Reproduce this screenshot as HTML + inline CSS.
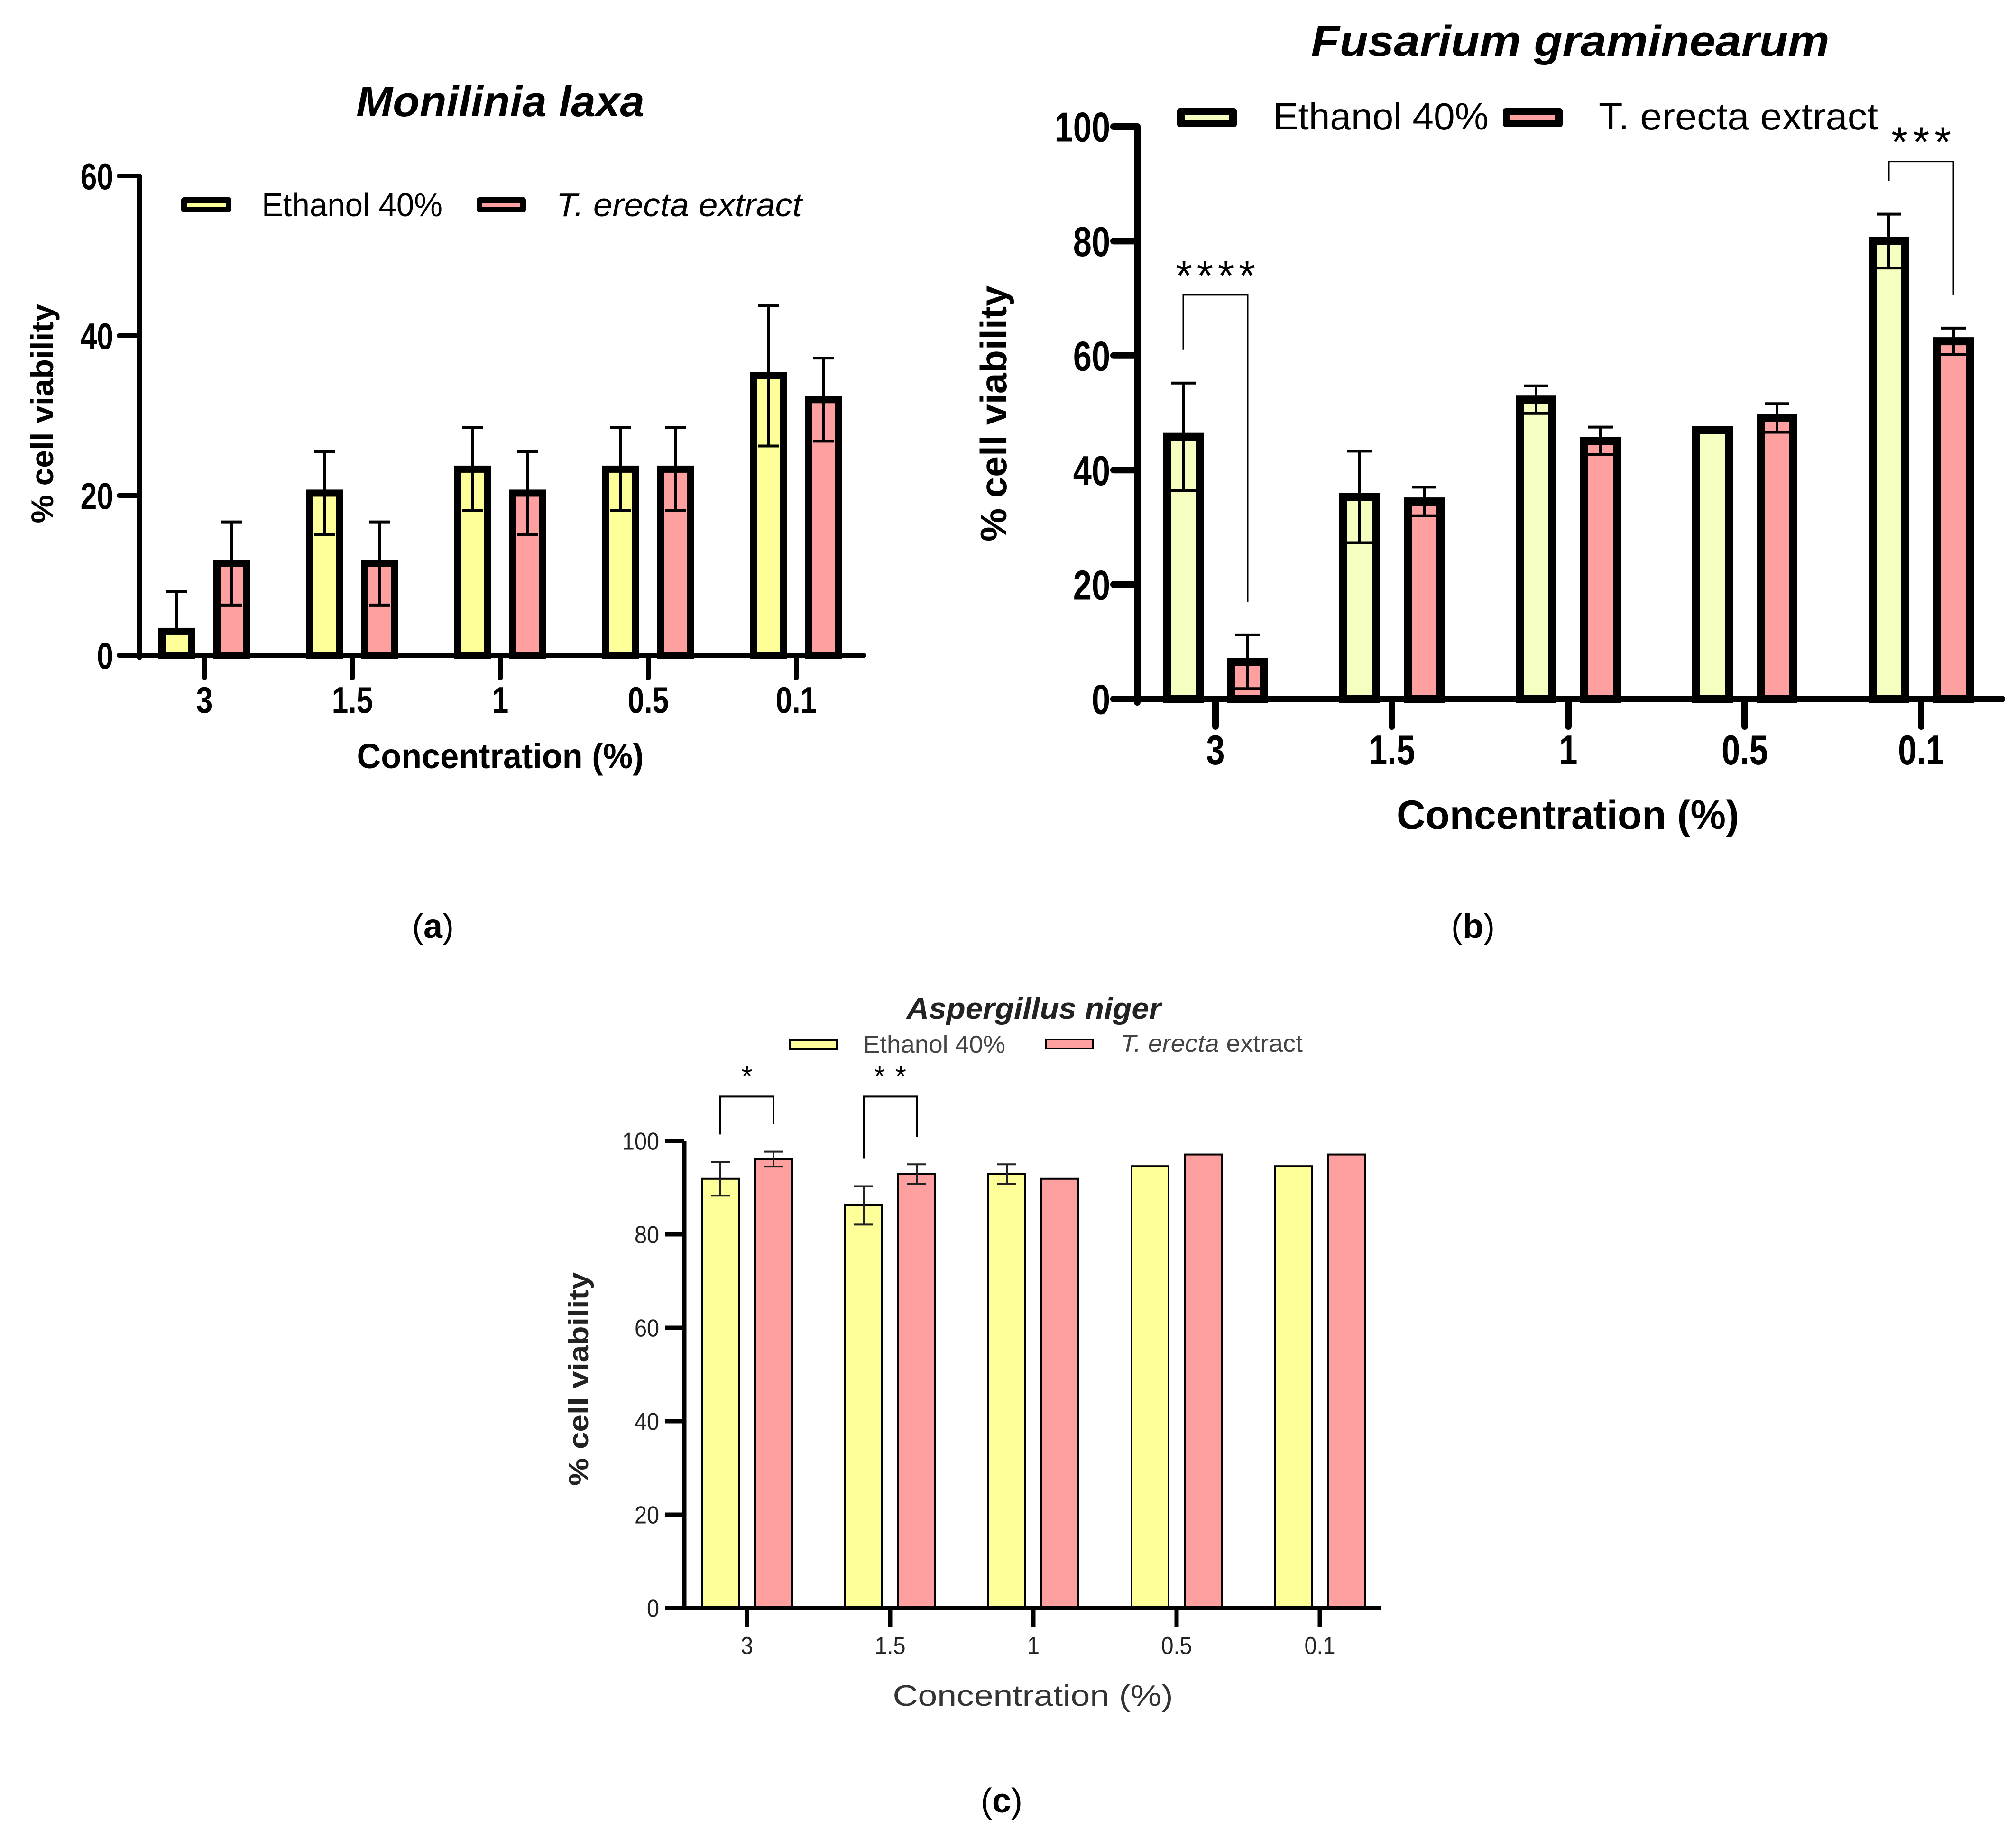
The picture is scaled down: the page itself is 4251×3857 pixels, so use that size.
<!DOCTYPE html>
<html><head><meta charset="utf-8"><style>
html,body{margin:0;padding:0;background:#fff;}
svg{display:block;}
text{font-family:"Liberation Sans",sans-serif;}
</style></head>
<body>
<svg id="fig" xmlns="http://www.w3.org/2000/svg" width="4251" height="3857" viewBox="0 0 4251 3857">
<rect x="0" y="0" width="4251" height="3857" fill="#fff"/>
<g>
<text x="1055" y="245" text-anchor="middle" font-size="90" font-weight="bold" font-style="italic" textLength="608" lengthAdjust="spacingAndGlyphs">Monilinia laxa</text>
<g>
<rect x="382" y="416" width="106" height="32" rx="6" fill="#000"/>
<rect x="394" y="428" width="82" height="8" fill="#FFFF99"/>
<text x="552" y="456" font-size="70" textLength="381" lengthAdjust="spacingAndGlyphs">Ethanol 40%</text>
<rect x="1005" y="416" width="104" height="32" rx="6" fill="#000"/>
<rect x="1017" y="428" width="80" height="8" fill="#FFA0A0"/>
<text x="1173" y="456" font-size="70" font-style="italic" textLength="518" lengthAdjust="spacingAndGlyphs">T. erecta extract</text>
</g>
<text transform="translate(112,872) rotate(-90)" text-anchor="middle" font-size="66" font-weight="bold" textLength="463" lengthAdjust="spacingAndGlyphs">% cell viability</text>
<text x="1055" y="1620" text-anchor="middle" font-size="74" font-weight="bold" textLength="605" lengthAdjust="spacingAndGlyphs">Concentration (%)</text>
<text x="913" y="1978" text-anchor="middle" font-size="72" font-family="Liberation Serif, serif">(<tspan font-weight="bold">a</tspan>)</text>
</g>
<g>
<text x="3311" y="118" text-anchor="middle" font-size="92" font-weight="bold" font-style="italic" textLength="1093" lengthAdjust="spacingAndGlyphs">Fusarium graminearum</text>
<g>
<rect x="2482" y="228" width="126" height="40" rx="6" fill="#000"/>
<rect x="2498" y="243" width="94" height="10" fill="#F4FFC0"/>
<text x="2684" y="273" font-size="80" textLength="455" lengthAdjust="spacingAndGlyphs">Ethanol 40%</text>
<rect x="3169" y="228" width="126" height="40" rx="6" fill="#000"/>
<rect x="3185" y="243" width="94" height="10" fill="#FFA0A0"/>
<text x="3371" y="273" font-size="80" textLength="589" lengthAdjust="spacingAndGlyphs">T. erecta extract</text>
</g>
<text transform="translate(2122,872) rotate(-90)" text-anchor="middle" font-size="78" font-weight="bold" textLength="540" lengthAdjust="spacingAndGlyphs">% cell viability</text>
<text x="3306" y="1748" text-anchor="middle" font-size="86" font-weight="bold" textLength="722" lengthAdjust="spacingAndGlyphs">Concentration (%)</text>
<text x="3106" y="1978" text-anchor="middle" font-size="72" font-family="Liberation Serif, serif">(<tspan font-weight="bold">b</tspan>)</text>
</g>
<g>
<text x="2180" y="2148" text-anchor="middle" font-size="62" font-weight="bold" font-style="italic" fill="#222" textLength="537" lengthAdjust="spacingAndGlyphs">Aspergillus niger</text>
<g>
<rect x="1666" y="2193" width="98" height="19" fill="#FFFF99" stroke="#000" stroke-width="4"/>
<text x="1820" y="2220" font-size="52" fill="#444" textLength="300" lengthAdjust="spacingAndGlyphs">Ethanol 40%</text>
<rect x="2205" y="2192" width="99" height="19" fill="#FFA0A0" stroke="#000" stroke-width="4"/>
<text x="2363" y="2218" font-size="52" fill="#444" textLength="384" lengthAdjust="spacingAndGlyphs"><tspan font-style="italic">T. erecta</tspan> extract</text>
</g>
<text transform="translate(1240,2908) rotate(-90)" text-anchor="middle" font-size="58" font-weight="bold" fill="#222" textLength="450" lengthAdjust="spacingAndGlyphs">% cell viability</text>
<text x="2178" y="3597" text-anchor="middle" font-size="62" fill="#333" textLength="591" lengthAdjust="spacingAndGlyphs">Concentration (%)</text>
<text x="2112" y="3822" text-anchor="middle" font-size="72" font-family="Liberation Serif, serif">(<tspan font-weight="bold">c</tspan>)</text>
</g>
<g id="plots"></g>
</svg>
<script>
var categories = ["3", "1.5", "1", "0.5", "0.1"];
// Panel a: Monilinia laxa
var aTicks = [0, 20, 40, 60];
var aEthanol = [3, 20.3, 23.3, 23.3, 35];
var aEthanolErr = [5, 5.2, 5.2, 5.2, 8.8];
var aExtract = [11.5, 11.5, 20.3, 23.3, 32];
var aExtractErr = [5.2, 5.2, 5.2, 5.2, 5.2];
// Panel b: Fusarium graminearum
var bTicks = [0, 20, 40, 60, 80, 100];
var bEthanol = [45.8, 35.3, 52.3, 47, 80];
var bEthanolErr = [9.4, 8, 2.4, 0, 4.7];
var bExtract = [6.5, 34.5, 45.1, 49.1, 62.5];
var bExtractErr = [4.7, 2.5, 2.4, 2.5, 2.3];
var bSigLabels = ["****", "***"];
var bSigCats = [0, 4];
var bSigTops = [70.6, 93.9];
// Panel c: Aspergillus niger
var cTicks = [0, 20, 40, 60, 80, 100];
var cEthanol = [91.9, 86.2, 92.9, 94.6, 94.6];
var cEthanolErr = [3.6, 4.1, 2.1, 0, 0];
var cExtract = [96.1, 92.9, 91.9, 97.1, 97.1];
var cExtractErr = [1.6, 2.1, 0, 0, 0];
var cSigLabels = ["*", "**"];
var cSigCats = [0, 1];
var cSigTops = [109.5, 109.5];

var NS = "http://www.w3.org/2000/svg";
var root = document.getElementById("plots");
function mk(tag, attrs, parent) {
  var e = document.createElementNS(NS, tag);
  for (var k in attrs) e.setAttribute(k, attrs[k]);
  (parent || root).appendChild(e);
  return e;
}

function drawChart(cfg, eth, ethErr, ext, extErr) {
  var g = mk("g", {});
  
  
  function y(v) { return cfg.y0 - v / cfg.ymax * (cfg.y0 - cfg.yTop); }
  function x(i) { return cfg.x0 + i * cfg.dx; }
  var series = [[eth, ethErr, cfg.c1, -cfg.off, 'ethanol'], [ext, extErr, cfg.c2, cfg.off, 'extract']];
  series.forEach(function (s) {
    for (var i = 0; i < categories.length; i++) {
      var cx = x(i) + s[3];
      var top = y(s[0][i]);
      var r = mk("rect", {x: cx - cfg.bw / 2, y: top, width: cfg.bw, height: cfg.y0 - top, fill: s[2], stroke: "#000", "stroke-width": cfg.sw}, g);
      
      
      if (s[1][i] > 0) {
        var hi = y(s[0][i] + s[1][i]);
        var lov = s[0][i] - s[1][i];
        var path = "M" + (cx - cfg.cap / 2) + " " + hi + "h" + cfg.cap;
        if (lov > 0) {
          var lo = y(lov);
          path += "M" + cx + " " + lo + "V" + hi + "M" + (cx - cfg.cap / 2) + " " + lo + "h" + cfg.cap;
        } else {
          path += "M" + cx + " " + y(s[0][i]) + "V" + hi;
        }
        var eb = mk("path", {d: path, stroke: cfg.ec, "stroke-width": cfg.ew, fill: "none"}, g);
        
        
      }
    }
  });
  var ya = mk("line", {x1: cfg.ax, y1: cfg.yTop, x2: cfg.ax, y2: cfg.y0 + cfg.aw / 2, stroke: "#000", "stroke-width": cfg.aw, "stroke-linecap": cfg.lc}, g);
  
  
  var xa = mk("line", {x1: cfg.tl, y1: cfg.y0, x2: cfg.xEnd, y2: cfg.y0, stroke: "#000", "stroke-width": cfg.aw, "stroke-linecap": cfg.lc}, g);
  
  
  var ticks = cfg.ticks;
  for (var t = 0; t < ticks.length; t++) {
    var ty = y(ticks[t]);
    var tk = mk("line", {x1: cfg.tl, y1: ty, x2: cfg.ax, y2: ty, stroke: "#000", "stroke-width": cfg.aw, "stroke-linecap": cfg.lc}, g);
    
    
    var tl = mk("text", {transform: "translate(" + cfg.ylx + "," + (ty + cfg.tf * 0.36) + ") scale(" + cfg.sx + ",1)", "text-anchor": "end", "font-size": cfg.tf, "font-weight": cfg.tw, fill: cfg.tc}, g);
    tl.textContent = String(ticks[t]);
    
    
  }
  for (var i = 0; i < categories.length; i++) {
    var xt = mk("line", {x1: x(i), y1: cfg.y0, x2: x(i), y2: cfg.tb, stroke: "#000", "stroke-width": cfg.aw, "stroke-linecap": cfg.lc}, g);
    
    
    var xl = mk("text", {transform: "translate(" + x(i) + "," + cfg.xly + ") scale(" + cfg.sx + ",1)", "text-anchor": "middle", "font-size": cfg.tf, "font-weight": cfg.tw, fill: cfg.tc}, g);
    xl.textContent = categories[i];
    
    
  }
  if (cfg.sig) {
    for (var k = 0; k < cfg.sig.labels.length; k++) {
      var ci = cfg.sig.cats[k];
      var lx = x(ci) - cfg.off, rx = x(ci) + cfg.off;
      var ltop = eth[ci] + ethErr[ci], rtop = ext[ci] + extErr[ci];
      var top = y(cfg.sig.tops[k]);
      var lb = y(ltop) - cfg.sig.gap, rb = y(rtop) - cfg.sig.gap;
      var br = mk("path", {d: "M" + lx + " " + lb + "V" + top + "H" + rx + "V" + rb, stroke: "#000", "stroke-width": cfg.sig.w, fill: "none"}, g);
      
      
      var lab = cfg.sig.labels[k];
      var st = mk("text", {x: x(ci), y: top - cfg.sig.ty, "text-anchor": "middle", "font-size": cfg.sig.fs, fill: "#000", textLength: lab.length * cfg.sig.cw, lengthAdjust: "spacing"}, g);
      st.textContent = lab;
      
      
    }
  }
}

drawChart({id: "a", ax: 294, y0: 1382, yTop: 371, ymax: 60, xEnd: 1822, x0: 431, dx: 312, off: 58, bw: 63, sw: 15,
  c1: "#FFFF99", c2: "#FFA0A0", aw: 10, lc: "round", tl: 251, tb: 1430, ticks: aTicks, ylx: 239, xly: 1503, tf: 78, tw: "bold", tc: "#000", sx: 0.8,
  ew: 6, cap: 44, ec: "#000"}, aEthanol, aEthanolErr, aExtract, aExtractErr);

drawChart({id: "b", ax: 2398, y0: 1474, yTop: 267, ymax: 100, xEnd: 4221, x0: 2563, dx: 372, off: 68, bw: 69, sw: 17,
  c1: "#F4FFC0", c2: "#FFA0A0", aw: 14, lc: "round", tl: 2348, tb: 1532, ticks: bTicks, ylx: 2341, xly: 1612, tf: 88, tw: "bold", tc: "#000", sx: 0.8,
  ew: 6, cap: 52, ec: "#000",
  sig: {labels: bSigLabels, cats: bSigCats, tops: bSigTops, gap: 70, w: 3, fs: 90, ty: 10, cw: 42}}, bEthanol, bEthanolErr, bExtract, bExtractErr);

drawChart({id: "c", ax: 1443, y0: 3391, yTop: 2406, ymax: 100, xEnd: 2913, x0: 1575, dx: 302, off: 56, bw: 78, sw: 4,
  c1: "#FFFF99", c2: "#FFA0A0", aw: 9, lc: "butt", tl: 1402, tb: 3431, ticks: cTicks, ylx: 1390, xly: 3488, tf: 52, tw: "normal", tc: "#222", sx: 0.9,
  ew: 4, cap: 40, ec: "#222",
  sig: {labels: cSigLabels, cats: cSigCats, tops: cSigTops, gap: 58, w: 4, fs: 60, ty: 22, cw: 34}}, cEthanol, cEthanolErr, cExtract, cExtractErr);
</script>
</body></html>
